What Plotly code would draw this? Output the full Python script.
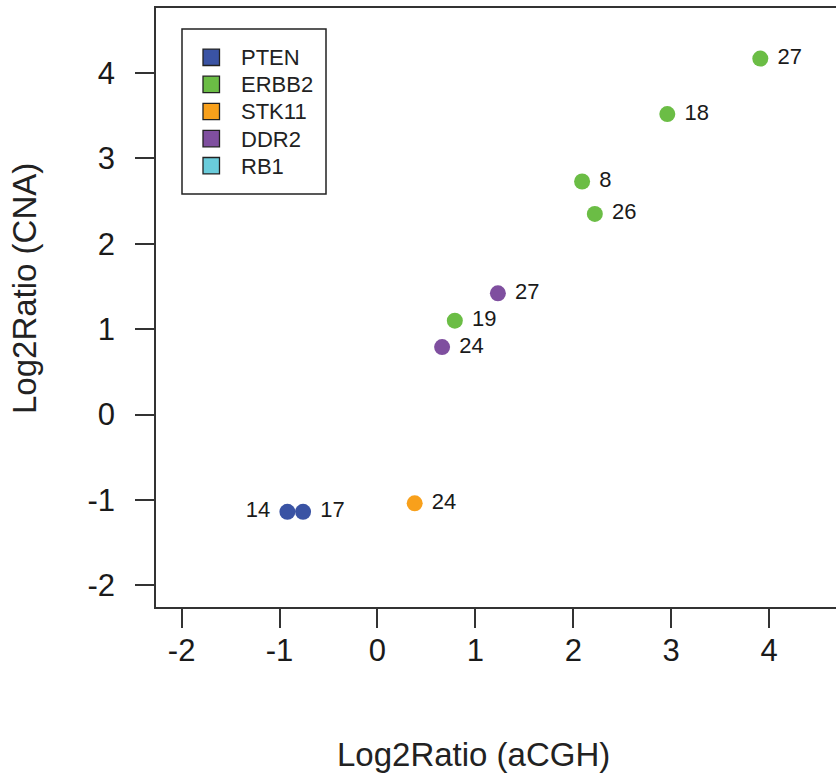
import plotly.graph_objects as go

# ---- data ----
genes = ["PTEN", "ERBB2", "STK11", "DDR2", "RB1"]
gene_colors = ["#3A53A4", "#6BBD45", "#F8A01B", "#7F4F9F", "#6ACCDB"]

pten_x = [-0.92, -0.76]
pten_y = [-1.14, -1.14]
pten_lbl = ["14", "17"]

erbb2_x = [0.79, 2.09, 2.22, 2.96, 3.91]
erbb2_y = [1.10, 2.73, 2.35, 3.52, 4.17]
erbb2_lbl = ["19", "8", "26", "18", "27"]

stk11_x = [0.38]
stk11_y = [-1.04]
stk11_lbl = ["24"]

ddr2_x = [0.66, 1.23]
ddr2_y = [0.79, 1.42]
ddr2_lbl = ["24", "27"]

rb1_x = []
rb1_y = []
rb1_lbl = []

x_ticks = [-2, -1, 0, 1, 2, 3, 4]
y_ticks = [-2, -1, 0, 1, 2, 3, 4]
x_ticktext = ["-2", "-1", "0", "1", "2", "3", "4"]
y_ticktext = ["-2", "-1", "0", "1", "2", "3", "4"]

FONT = "Liberation Sans, Arial, Helvetica, sans-serif"

series = {
    "PTEN": (pten_x, pten_y, pten_lbl, ["middle left", "middle right"]),
    "ERBB2": (erbb2_x, erbb2_y, erbb2_lbl, ["middle right"] * len(erbb2_x)),
    "STK11": (stk11_x, stk11_y, stk11_lbl, ["middle right"]),
    "DDR2": (ddr2_x, ddr2_y, ddr2_lbl, ["middle right"] * len(ddr2_x)),
    "RB1": (rb1_x, rb1_y, rb1_lbl, []),
}

# figure geometry (px)
W, H = 836, 773
ML, MR, MT, MB = 156, 0, 8, 166
PW, PH = W - ML - MR, H - MT - MB


def px_to_paper_x(px):
    return (px - ML) / PW


def px_to_paper_y(py):
    return (H - MB - py) / PH


fig = go.Figure()

for g, c in zip(genes, gene_colors):
    xs, ys, lbls, pos = series[g]
    if xs:
        fig.add_trace(go.Scatter(
            x=xs, y=ys, mode="markers+text",
            text=[(" " + t) if p == "middle right" else (t + " ") for t, p in zip(lbls, pos)],
            textposition=pos,
            textfont=dict(family=FONT, size=22, color="#1a1a1a"),
            marker=dict(size=16, color=c, line=dict(width=0)),
            showlegend=False, cliponaxis=False, hoverinfo="x+y",
        ))

# ---- legend box (drawn as shapes + annotations) ----
shapes = []
annotations = []
box_l, box_r, box_t, box_b = 182, 326, 29, 194
shapes.append(dict(type="rect", xref="paper", yref="paper",
                   x0=px_to_paper_x(box_l), x1=px_to_paper_x(box_r),
                   y0=px_to_paper_y(box_b), y1=px_to_paper_y(box_t),
                   line=dict(color="#222222", width=1.5), fillcolor="white", layer="above"))
first_c, step = 57.3, 27.1
for i, (g, c) in enumerate(zip(genes, gene_colors)):
    cy = first_c + i * step
    shapes.append(dict(type="rect", xref="paper", yref="paper",
                       x0=px_to_paper_x(203), x1=px_to_paper_x(219.5),
                       y0=px_to_paper_y(cy + 8.2), y1=px_to_paper_y(cy - 8.2),
                       line=dict(color="#222222", width=1.3), fillcolor=c, layer="above"))
    annotations.append(dict(text=g, xref="paper", yref="paper",
                            x=px_to_paper_x(239), y=px_to_paper_y(cy + 0.5),
                            xanchor="left", yanchor="middle", showarrow=False,
                            font=dict(family=FONT, size=22, color="#222222")))

annotations += [
    dict(text="Log2Ratio (aCGH)", xref="paper", yref="paper",
         x=px_to_paper_x(473), y=px_to_paper_y(754),
         xanchor="center", yanchor="middle", showarrow=False,
         font=dict(family=FONT, size=33, color="#222222")),
    dict(text="Log2Ratio (CNA)", xref="paper", yref="paper",
         x=px_to_paper_x(24), y=px_to_paper_y(289),
         xanchor="center", yanchor="middle", showarrow=False, textangle=-90,
         font=dict(family=FONT, size=33, color="#222222")),
]

axis_common = dict(
    showgrid=False, zeroline=False, showline=True, linecolor="#333333", linewidth=1.5,
    ticks="outside", ticklen=19, tickwidth=1.5, tickcolor="#333333",
    tickfont=dict(family=FONT, size=31, color="#1a1a1a"),
)

fig.update_layout(
    width=W, height=H,
    margin=dict(l=ML, r=MR, t=MT, b=MB),
    plot_bgcolor="white", paper_bgcolor="white",
    showlegend=False,
    xaxis=dict(range=[-2.262, 4.683], tickvals=x_ticks, ticktext=x_ticktext, mirror=True,
               ticklabelstandoff=-4, **axis_common),
    yaxis=dict(range=[-2.255, 4.763], tickvals=y_ticks, ticktext=y_ticktext, mirror=False,
               ticklabelstandoff=14, **axis_common),
    shapes=shapes,
    annotations=annotations,
)

fig.write_html("out.html")
